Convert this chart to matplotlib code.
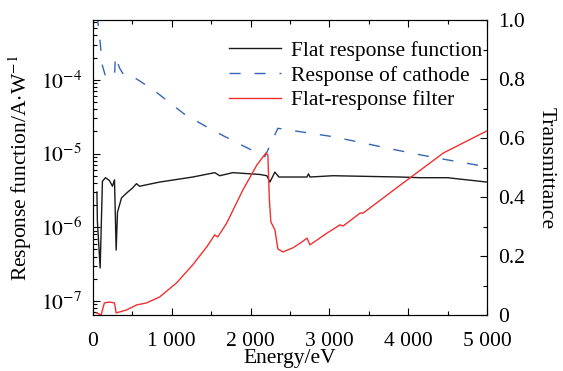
import matplotlib.pyplot as plt
import numpy as np
from matplotlib.ticker import MultipleLocator, FuncFormatter, LogLocator

plt.rcParams['font.family'] = ['Liberation Serif', 'DejaVu Serif']
plt.rcParams['mathtext.fontset'] = 'stix'
plt.rcParams['font.size'] = 15.5

# flat response function (left axis, A/W)
e_flat = [51, 57, 92, 121, 159, 210, 248, 274, 295, 312, 363, 426, 502, 553, 592,
          846, 1266, 1546, 1609, 1775, 2118, 2207, 2246, 2309, 2360, 2716, 2735,
          2754, 3047, 3900, 4154, 4498, 5000]
r_flat = [3.0e-6, 1.2e-6, 2.8e-7, 4.2e-6, 4.7e-6, 4.3e-6, 3.6e-6, 4.4e-6, 4.9e-7,
          1.6e-6, 2.5e-6, 2.9e-6, 3.4e-6, 3.9e-6, 3.6e-6, 4.1e-6, 4.8e-6, 5.5e-6,
          5.0e-6, 5.5e-6, 5.2e-6, 5.0e-6, 4.1e-6, 5.6e-6, 4.8e-6, 4.8e-6, 5.3e-6,
          4.8e-6, 5.0e-6, 4.8e-6, 4.7e-6, 4.7e-6, 4.1e-6]

# response of cathode (left axis, A/W)
e_cath = [51, 76, 121, 159, 274, 286, 337, 400, 553, 782, 1164, 1508, 1826, 2182,
          2347, 2653, 3034, 3416, 3772, 4154, 4498, 5000]
r_cath = [7.6e-4, 4.8e-4, 1.55e-4, 1.13e-4, 1.1e-4, 2.1e-4, 1.45e-4, 1.13e-4,
          1.03e-4, 7.1e-5, 3.4e-5, 2.1e-5, 1.4e-5, 9.1e-6, 2.2e-5, 1.96e-5, 1.7e-5,
          1.4e-5, 1.16e-5, 9.6e-6, 8.2e-6, 6.6e-6]

# flat-response filter transmittance (right axis)
e_filt = [45, 104, 146, 210, 274, 295, 426, 553, 681, 846, 1062, 1266, 1444, 1546,
          1584, 1698, 1902, 2080, 2195, 2220, 2239, 2258, 2309, 2347, 2411, 2538,
          2653, 2716, 2754, 2970, 3136, 3174, 3391, 3429, 3900, 4447, 5000]
t_filt = [0.007, 0.0, 0.041, 0.044, 0.041, 0.007, 0.017, 0.034, 0.041, 0.061, 0.109,
          0.170, 0.231, 0.272, 0.265, 0.312, 0.424, 0.509, 0.550, 0.543, 0.390, 0.316,
          0.289, 0.224, 0.214, 0.228, 0.248, 0.261, 0.238, 0.278, 0.306, 0.302, 0.346,
          0.346, 0.441, 0.550, 0.625]

fig = plt.figure(figsize=(5.63, 3.71), dpi=100)
ax = fig.add_axes([0.165, 0.151, 0.700, 0.794])
ax2 = ax.twinx()

l1, = ax.plot(e_flat, r_flat, color='#1a1a1a', lw=1.0, label='Flat response function')
l2, = ax.plot(e_cath, r_cath, color='#3565b5', lw=1.0, ls=(0, (8, 10)),
              label='Response of cathode')
l3, = ax2.plot(e_filt, t_filt, color='#f03030', lw=1.0, label='Flat-response filter')

ax.set_yscale('log')
ax.set_xlim(0, 5000)
ax.set_ylim(6.45e-8, 6.4e-4)
ax2.set_ylim(0, 1)

ax.xaxis.set_major_locator(MultipleLocator(1000))
ax.xaxis.set_minor_locator(MultipleLocator(500))
ax.xaxis.set_major_formatter(FuncFormatter(
    lambda v, p: '0' if v == 0 else f'{int(v):,}'.replace(',', ' ')))
ax.yaxis.set_major_locator(LogLocator(base=10, numticks=10))
ax.yaxis.set_minor_locator(LogLocator(base=10, subs=np.arange(2, 10), numticks=20))
ax.yaxis.set_major_formatter(FuncFormatter(lambda v, p: f'$10^{{{int(round(np.log10(v)))}}}$'))

ax2.yaxis.set_major_locator(MultipleLocator(0.2))
ax2.yaxis.set_minor_locator(MultipleLocator(0.1))
ax2.yaxis.set_major_formatter(FuncFormatter(lambda v, p: '0' if v == 0 else f'{v:.1f}'))

ax.tick_params(which='both', direction='in', top=True, right=False, width=0.8)
ax.tick_params(which='major', length=5)
ax.tick_params(axis='x', which='major', pad=12)
ax.tick_params(axis='y', which='major', pad=8)
ax.tick_params(which='minor', length=3)
ax2.tick_params(which='both', direction='in', width=0.8)
ax2.tick_params(which='major', length=5, pad=8)
ax2.tick_params(which='minor', length=3)

ax.set_xlabel('Energy/eV', labelpad=-1)
ax.set_ylabel('Response function/A$\\cdot$W$^{-1}$', labelpad=5)
ax2.set_ylabel('Transmittance', rotation=270, labelpad=22)

for a in (ax, ax2):
    for s in a.spines.values():
        s.set_linewidth(0.8)

ax.legend(handles=[l1, l2, l3], loc='upper right', bbox_to_anchor=(1.02, 0.975),
          frameon=False, handlelength=2.4, handletextpad=0.45, labelspacing=0.22,
          borderaxespad=0.2, fontsize=15.5)

fig.savefig('out.png', dpi=100)
